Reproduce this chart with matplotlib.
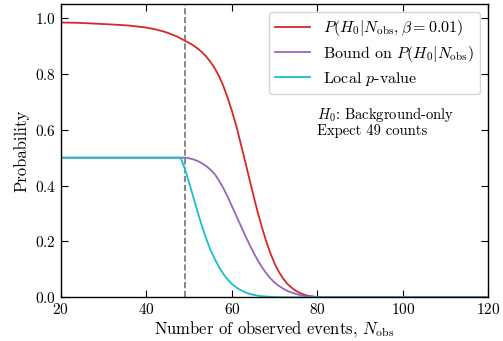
import matplotlib
matplotlib.use("Agg")
import matplotlib.pyplot as plt

# values
n_red = [20, 24, 28, 32, 36, 40, 41, 42, 43, 44, 45, 46, 47, 48, 49, 50, 51,
         52, 53, 54, 55, 56, 57, 58, 59, 60, 61, 62, 63, 64, 65, 66, 67, 68,
         69, 70, 71, 72, 73, 74, 75, 76, 77, 78, 79, 80, 82, 120]
p_red = [0.984, 0.983, 0.980, 0.977, 0.973, 0.966, 0.963, 0.960, 0.956,
         0.952, 0.947, 0.941, 0.935, 0.927, 0.919, 0.911, 0.902, 0.891,
         0.878, 0.862, 0.843, 0.820, 0.792, 0.757, 0.715, 0.668, 0.615,
         0.555, 0.493, 0.430, 0.367, 0.307, 0.252, 0.202, 0.158, 0.121,
         0.091, 0.067, 0.048, 0.034, 0.023, 0.015, 0.009, 0.005, 0.003,
         0.001, 0.0, 0.0]

n_bound = [20, 49, 50, 51, 52, 53, 54, 55, 56, 57, 58, 59, 60, 61, 62, 63,
           64, 65, 66, 67, 68, 69, 70, 71, 72, 73, 74, 75, 76, 77, 78, 79,
           80, 82, 120]
p_bound = [0.5, 0.5, 0.498, 0.494, 0.488, 0.480, 0.470, 0.457, 0.441,
           0.418, 0.391, 0.360, 0.327, 0.293, 0.259, 0.225, 0.193, 0.162,
           0.134, 0.109, 0.087, 0.068, 0.053, 0.041, 0.031, 0.023, 0.017,
           0.012, 0.008, 0.005, 0.003, 0.002, 0.001, 0.0, 0.0]

n_pval = [20, 48, 49, 50, 51, 52, 53, 54, 55, 56, 57, 58, 59, 60, 61, 62,
          63, 64, 65, 66, 67, 68, 69, 70, 73, 120]
p_pval = [0.5, 0.5, 0.46, 0.41, 0.358, 0.305, 0.255, 0.210, 0.170, 0.137,
          0.108, 0.084, 0.064, 0.048, 0.036, 0.026, 0.019, 0.013, 0.009,
          0.006, 0.004, 0.003, 0.002, 0.001, 0.0, 0.0]

n_expect = 49

plt.rcParams.update({
    "font.family": "serif", "font.serif": ["cmr10"],
    "mathtext.fontset": "cm", "axes.formatter.use_mathtext": True,
    "font.size": 11, "axes.linewidth": 1.0,
    "xtick.direction": "in", "ytick.direction": "in",
    "xtick.top": True, "ytick.right": True,
    "xtick.major.size": 5, "ytick.major.size": 5,
})

fig = plt.figure(figsize=(5.03, 3.41), dpi=100)
ax = fig.add_axes([0.121, 0.128, 0.850, 0.860])

ax.axvline(n_expect, color="0.45", ls="--", lw=1.2, zorder=1)
ax.plot(n_red, p_red, color="#d62728", lw=1.3,
        label=r"$P(H_0|N_{\rm obs}, \beta=0.01)$")
ax.plot(n_bound, p_bound, color="#9467bd", lw=1.3,
        label=r"Bound on $P(H_0|N_{\rm obs})$")
ax.plot(n_pval, p_pval, color="#17becf", lw=1.3, label=r"Local $p$-value")

ax.set_xlim(20, 120)
ax.set_ylim(0, 1.05)
ax.set_xticks([20, 40, 60, 80, 100, 120])
ax.set_yticks([0.0, 0.2, 0.4, 0.6, 0.8, 1.0])
ax.set_xlabel(r"Number of observed events, $N_{\rm obs}$", fontsize=12, labelpad=1)
ax.set_ylabel("Probability", fontsize=12)

ax.legend(loc="upper right", fontsize=11.5, handlelength=2.2,
          borderaxespad=0.5, labelspacing=0.35)
ax.text(80, 0.655, r"$H_0$: Background-only", fontsize=10.5, va="center")
ax.text(80, 0.597, "Expect 49 counts", fontsize=10.5, va="center")

fig.savefig("out.png", dpi=100)
